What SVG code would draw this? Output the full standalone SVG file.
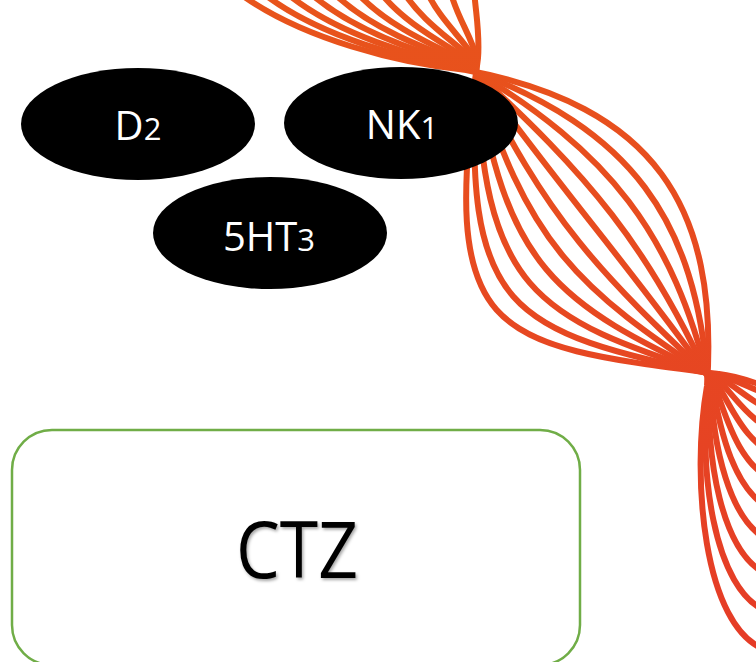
<svg xmlns="http://www.w3.org/2000/svg" width="756" height="662" viewBox="0 0 756 662">
  <defs>
    <linearGradient id="ribbonInk" gradientUnits="userSpaceOnUse" x1="0" y1="0" x2="0" y2="662">
      <stop offset="0" stop-color="#E8541B"/>
      <stop offset="1" stop-color="#E53B27"/>
    </linearGradient>
    <filter id="softShadow" x="-10%" y="-10%" width="130%" height="140%">
      <feDropShadow dx="1.5" dy="2" stdDeviation="1.5" flood-color="#000" flood-opacity="0.35"/>
    </filter>
  </defs>
  <style>
    .strand { fill: none; stroke: url(#ribbonInk); stroke-width: 6; stroke-linecap: round; }
    .receptor { fill: #000; }
    .receptor-label { fill: #fff; font-family: "Open Sans", "Liberation Sans", sans-serif; font-size: 40px; text-anchor: middle; }
    .sub { font-size: 31px; }
    .zone { fill: #fff; stroke: #70AD47; stroke-width: 2.5; }
    .zone-label { fill: #000; font-family: "Open Sans", "Liberation Sans", sans-serif; font-size: 78px; text-anchor: middle; }
  </style>

  <!-- twisted ribbon of strands, drawn first so the receptors sit on top -->
  <g id="ribbon">
    <path class="strand" d="M235,-10 C300,40 404,64 466,70 C654,106 719,206 707,386 C691,476 703,628 766,650"/>
    <path class="strand" d="M258.9,-10 C317.4,37.5 411.6,61 467.2,68.8 C632.6,129.3 695.7,219.8 708.2,384.8 C698.5,462.1 711.3,592.8 769.5,612.3"/>
    <path class="strand" d="M282.8,-10 C334.8,35 419.2,58 468.4,67.6 C611.2,152.6 672.4,233.6 709.4,383.6 C705.6,448.9 719.2,559.4 772.8,576.6"/>
    <path class="strand" d="M306.7,-10 C352.2,32.5 426.8,55 469.6,66.4 C589.8,175.9 649.1,247.4 710.6,382.4 C712.4,436.4 726.6,528.2 775.9,543.1"/>
    <path class="strand" d="M330.6,-10 C369.6,30 434.4,52 470.8,65.2 C568.4,199.2 625.8,261.2 711.8,381.2 C718.8,424.6 733.5,499 778.8,511.9"/>
    <path class="strand" d="M354.5,-10 C387,27.5 442,49 472,64 C547,222.5 602.5,275 713,380 C724.8,413.8 739.8,472.2 781.5,483.2"/>
    <path class="strand" d="M378.4,-10 C404.4,25 449.6,46 473.2,62.8 C525.6,245.8 579.2,288.8 714.2,378.8 C730.3,403.8 745.6,448 783.9,457.3"/>
    <path class="strand" d="M402.3,-10 C421.8,22.5 457.2,43 474.4,61.6 C504.2,269.1 555.9,302.6 715.4,377.6 C735.3,394.9 750.6,426.6 786.1,434.4"/>
    <path class="strand" d="M426.2,-10 C439.2,20 464.8,40 475.6,60.4 C482.8,292.4 532.6,316.4 716.6,376.4 C739.8,387.2 754.9,408.6 787.9,415.1"/>
    <path class="strand" d="M450.1,-10 C456.6,17.5 472.4,37 476.8,59.2 C461.4,315.7 509.3,330.2 717.8,375.2 C743.4,381 758.2,394.6 789.2,400.2"/>
    <path class="strand" d="M474,-10 C476,15 480,34 478,58 C440,339 486,344 719,374 C746,377 760,387 790,392"/>
  </g>

  <g id="node-d2">
    <ellipse class="receptor" cx="138" cy="124" rx="117" ry="56"/>
    <text class="receptor-label" x="138" y="140">D<tspan class="sub">2</tspan></text>
  </g>

  <g id="node-nk1">
    <ellipse class="receptor" cx="401" cy="123" rx="117" ry="56"/>
    <text class="receptor-label" x="402" y="139">NK<tspan class="sub">1</tspan></text>
  </g>

  <g id="node-5ht3">
    <ellipse class="receptor" cx="270" cy="233" rx="117" ry="56"/>
    <text class="receptor-label" x="269" y="251">5HT<tspan class="sub">3</tspan></text>
  </g>

  <g id="node-ctz">
    <rect class="zone" x="12" y="430" width="568" height="235" rx="40" ry="40"/>
    <text class="zone-label" x="297" y="578" textLength="122" lengthAdjust="spacingAndGlyphs" filter="url(#softShadow)">CTZ</text>
  </g>
</svg>
